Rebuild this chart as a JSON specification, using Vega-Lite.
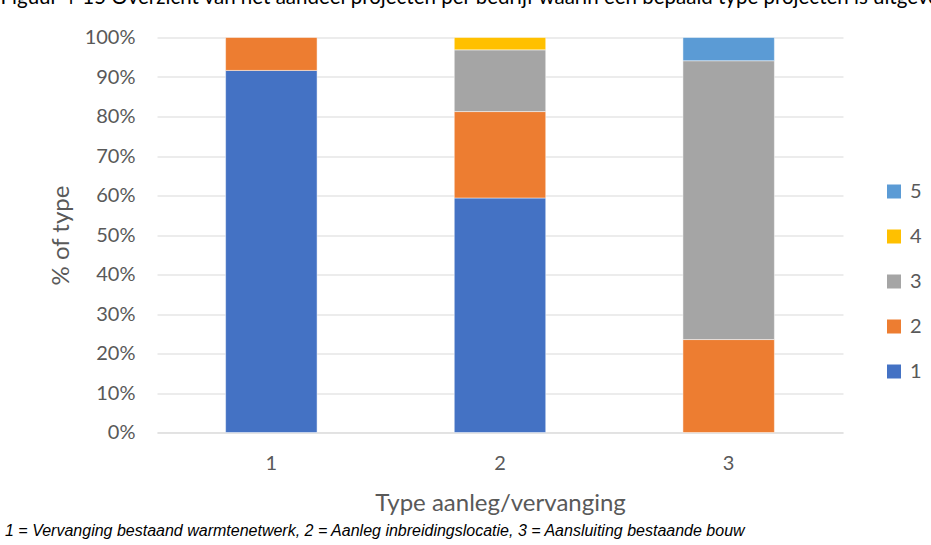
{
  "$schema": "https://vega.github.io/schema/vega-lite/v6.json",
  "width": 686,
  "height": 395,
  "autosize": "none",
  "padding": {"left": 157, "top": 37.5, "right": 88, "bottom": 112.5},
  "background": "white",
  "config": {"view": {"stroke": null}, "font": "Lato"},
  "title": {
    "text": "1 = Vervanging bestaand warmtenetwerk, 2 = Aanleg inbreidingslocatie, 3 = Aansluiting bestaande bouw",
    "orient": "bottom",
    "anchor": "start",
    "frame": "group",
    "font": "Liberation Sans",
    "fontStyle": "italic",
    "fontWeight": "normal",
    "fontSize": 16,
    "color": "black",
    "dx": -152,
    "offset": 7
  },
  "data": {
    "values": [
      {"aanleg": "1", "typeProject": "1", "share": 91.667},
      {"aanleg": "1", "typeProject": "2", "share": 8.333},
      {"aanleg": "2", "typeProject": "1", "share": 59.375},
      {"aanleg": "2", "typeProject": "2", "share": 21.875},
      {"aanleg": "2", "typeProject": "3", "share": 15.625},
      {"aanleg": "2", "typeProject": "4", "share": 3.125},
      {"aanleg": "3", "typeProject": "2", "share": 23.53},
      {"aanleg": "3", "typeProject": "3", "share": 70.59},
      {"aanleg": "3", "typeProject": "5", "share": 5.88}
    ]
  },
  "layer": [
    {
      "mark": {"type": "bar", "stroke": "#ffffff", "strokeWidth": 0.8, "strokeOpacity": 0.6},
      "encoding": {
        "x": {
          "field": "aanleg",
          "type": "nominal",
          "scale": {"paddingInner": 0.6, "paddingOuter": 0.3},
          "axis": {
            "labelAngle": 0,
            "labelFontSize": 20,
            "labelColor": "#595959",
            "labelPadding": 21,
            "ticks": false,
            "domainColor": "#d9d9d9",
            "domainWidth": 1,
            "grid": false,
            "title": "Type aanleg/vervanging",
            "titleFontSize": 24,
            "titleFontWeight": "normal",
            "titleColor": "#595959",
            "titlePadding": 18
          }
        },
        "y": {
          "field": "share",
          "type": "quantitative",
          "stack": "zero",
          "scale": {"domain": [0, 100]},
          "axis": {
            "values": [0, 10, 20, 30, 40, 50, 60, 70, 80, 90, 100],
            "labelExpr": "datum.value + '%'",
            "domain": false,
            "ticks": false,
            "gridColor": "#d9d9d9",
            "gridWidth": 1,
            "labelFontSize": 20,
            "labelColor": "#595959",
            "labelPadding": 22,
            "title": "% of type",
            "titleFontSize": 24,
            "titleFontWeight": "normal",
            "titleColor": "#595959",
            "titlePadding": 11
          }
        },
        "color": {
          "field": "typeProject",
          "type": "nominal",
          "scale": {
            "domain": ["5", "4", "3", "2", "1"],
            "range": ["#5b9bd5", "#ffc000", "#a5a5a5", "#ed7d31", "#4472c4"]
          },
          "legend": {
            "title": null,
            "orient": "none",
            "legendX": 727,
            "legendY": 144,
            "symbolType": "square",
            "symbolSize": 196,
            "symbolStrokeWidth": 0,
            "labelFontSize": 20,
            "labelColor": "#595959",
            "labelOffset": 6,
            "rowPadding": 25
          }
        },
        "order": {"field": "typeProject", "type": "ordinal", "sort": "ascending"}
      }
    },
    {
      "mark": {"type": "bar", "opacity": 0},
      "encoding": {
        "x": {
          "field": "aanleg",
          "type": "nominal",
          "axis": {
            "orient": "top",
            "labels": false,
            "ticks": false,
            "domain": false,
            "grid": false,
            "title": "Figuur 4-15 Overzicht van het aandeel projecten per bedrijf waarin een bepaald type projecten is uitgevoerd",
            "titleAnchor": "start",
            "titleAlign": "left",
            "titleBaseline": "alphabetic",
            "titleX": -157,
            "titleY": -34,
            "titleFont": "Lato",
            "titleFontSize": 20.5,
            "titleFontWeight": "normal",
            "titleColor": "#000000"
          }
        }
      }
    }
  ],
  "resolve": {"axis": {"x": "independent"}}
}
